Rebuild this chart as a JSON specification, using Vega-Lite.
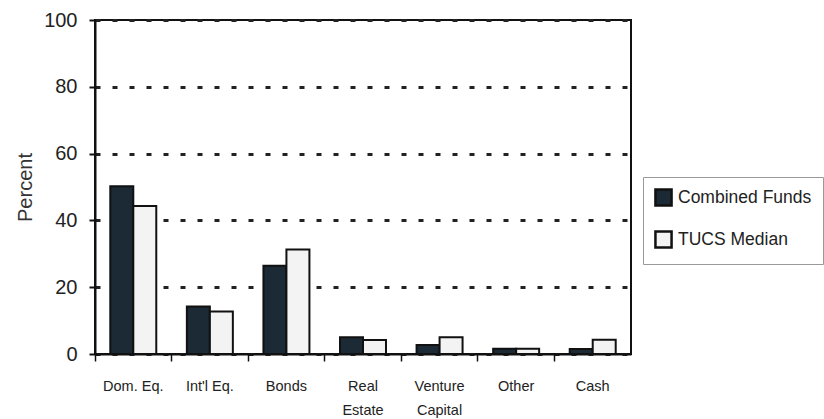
{
  "$schema": "https://vega.github.io/schema/vega-lite/v6.json",
  "width": 536,
  "height": 334,
  "autosize": {"type": "none"},
  "padding": {"left": 95, "top": 20, "right": 193, "bottom": 65},
  "background": "white",
  "data": {
    "values": [
      {"cat": "Dom. Eq.", "series": "Combined Funds", "value": 50.2},
      {"cat": "Dom. Eq.", "series": "TUCS Median", "value": 44.3},
      {"cat": "Int'l Eq.", "series": "Combined Funds", "value": 14.2},
      {"cat": "Int'l Eq.", "series": "TUCS Median", "value": 12.7},
      {"cat": "Bonds", "series": "Combined Funds", "value": 26.4},
      {"cat": "Bonds", "series": "TUCS Median", "value": 31.3},
      {"cat": "Real Estate", "series": "Combined Funds", "value": 5.0},
      {"cat": "Real Estate", "series": "TUCS Median", "value": 4.2},
      {"cat": "Venture Capital", "series": "Combined Funds", "value": 2.7},
      {"cat": "Venture Capital", "series": "TUCS Median", "value": 5.0},
      {"cat": "Other", "series": "Combined Funds", "value": 1.6},
      {"cat": "Other", "series": "TUCS Median", "value": 1.6},
      {"cat": "Cash", "series": "Combined Funds", "value": 1.5},
      {"cat": "Cash", "series": "TUCS Median", "value": 4.3}
    ]
  },
  "mark": {"type": "bar", "stroke": "#111", "strokeWidth": 2},
  "encoding": {
    "x": {
      "field": "cat",
      "type": "nominal",
      "sort": null,
      "scale": {"paddingInner": 0, "paddingOuter": 0},
      "axis": {
        "title": null,
        "labelAngle": 0,
        "bandPosition": 0,
        "domainColor": "#111",
        "domainWidth": 2,
        "tickColor": "#111",
        "tickWidth": 1.5,
        "tickSize": 7,
        "labelPadding": 18,
        "labelFont": "Liberation Sans",
        "labelFontSize": 14.5,
        "labelColor": "#222",
        "labelLineHeight": 24,
        "labelBaseline": "top",
        "labelExpr": "datum.label == 'Real Estate' ? ['Real','Estate'] : datum.label == 'Venture Capital' ? ['Venture','Capital'] : datum.label"
      }
    },
    "xOffset": {
      "field": "series",
      "type": "nominal",
      "scale": {"paddingInner": 0, "paddingOuter": 0.665}
    },
    "y": {
      "field": "value",
      "type": "quantitative",
      "scale": {"domain": [0, 100], "nice": false},
      "axis": {
        "title": "Percent",
        "titleFont": "Liberation Sans",
        "titleFontSize": 20,
        "titleFontWeight": "normal",
        "titleColor": "#333",
        "titlePadding": 8,
        "values": [0, 20, 40, 60, 80, 100],
        "labelFont": "Liberation Sans",
        "labelFontSize": 20,
        "labelColor": "#222",
        "labelPadding": 12,
        "tickSize": 6,
        "tickColor": "#111",
        "tickWidth": 2,
        "domainColor": "#111",
        "domainWidth": 2,
        "grid": true,
        "gridColor": "#222",
        "gridWidth": 3,
        "gridDash": [5, 12]
      }
    },
    "color": {
      "field": "series",
      "type": "nominal",
      "scale": {"domain": ["Combined Funds", "TUCS Median"], "range": ["#1b2a35", "#f3f3f3"]},
      "legend": {
        "title": null,
        "orient": "none",
        "legendX": 548,
        "legendY": 157,
        "symbolType": "square",
        "symbolSize": 260,
        "symbolStrokeColor": "#111",
        "symbolStrokeWidth": 2.5,
        "labelFont": "Liberation Sans",
        "labelFontSize": 17.5,
        "labelColor": "#222",
        "labelOffset": 5,
        "rowPadding": 15,
        "padding": 11,
        "strokeColor": "#999",
        "fillColor": "white"
      }
    }
  },
  "config": {
    "view": {"stroke": "#111", "strokeWidth": 2}
  }
}
